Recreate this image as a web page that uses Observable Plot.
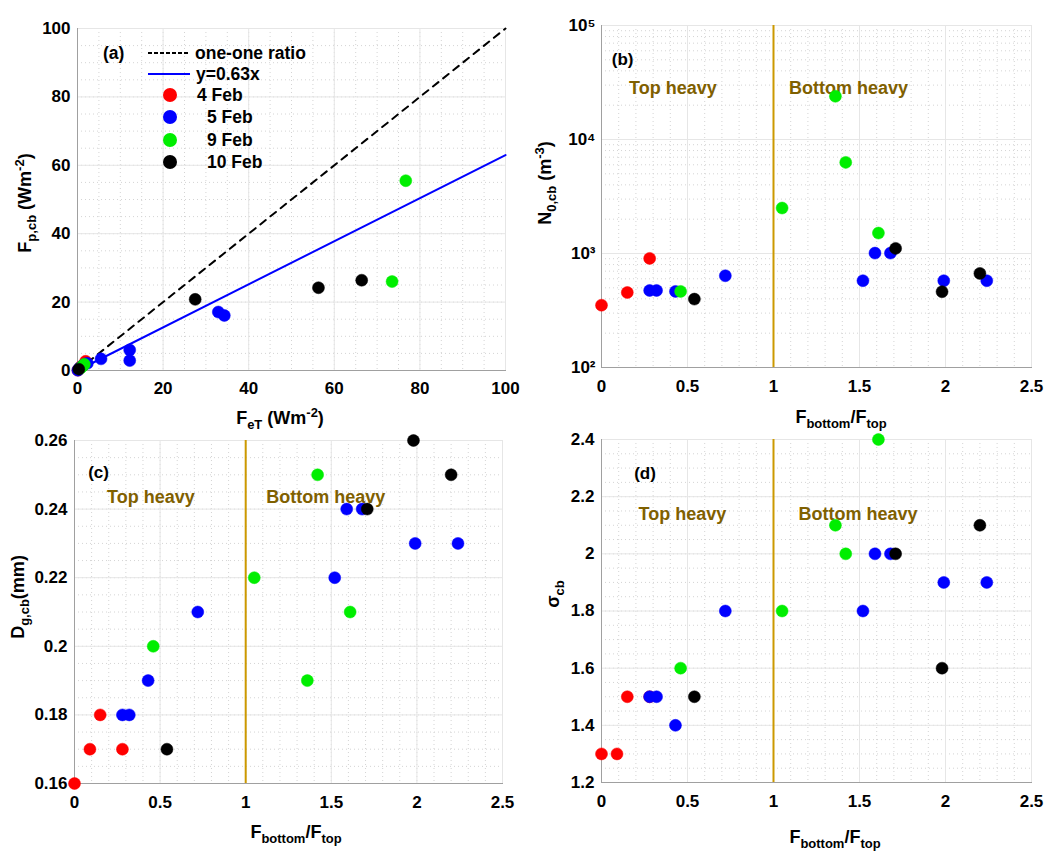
<!DOCTYPE html>
<html>
<head>
<meta charset="utf-8">
<script src="https://cdn.jsdelivr.net/npm/d3@7"></script>
<script src="https://cdn.jsdelivr.net/npm/@observablehq/plot@0.6"></script>
<style>
  body { margin: 0; background: white; }
  #fig { position: relative; width: 1058px; height: 858px; background: white; }
  #fig > div { position: absolute; }
</style>
</head>
<body>
<div id="fig">
  <div id="pc" style="left:0;top:430px"></div>
  <div id="pd" style="left:529px;top:430px"></div>
  <div id="pa" style="left:0;top:0"></div>
  <div id="pb" style="left:529px;top:0"></div>
</div>
<script>
// panel (a): FeT vs Fp,cb
const fet4 = [0.1, 0.7, 1.2, 1.9]
const fp4 = [0.1, 1.0, 1.5, 2.7]
const fet5 = [0.1, 0.5, 1.4, 2.3, 5.5, 12.2, 12.2, 32.9, 34.3]
const fp5 = [0.1, 0.7, 1.6, 2.1, 3.4, 6.0, 2.9, 17.1, 16.1]
const fet9 = [0.7, 1.2, 1.6, 73.5, 76.7]
const fp9 = [0.7, 1.3, 1.8, 26.0, 55.5]
const fet10 = [0.3, 27.5, 56.3, 66.4]
const fp10 = [0.4, 20.8, 24.2, 26.4]
const oneX = [0, 100], oneY = [0, 100]
const fitX = [0, 100], fitY = [0, 63]

// panels (b)-(d): Fbottom/Ftop ratio
const ratio4 = [0, 0.09, 0.15, 0.28]
const ratio5 = [0.28, 0.32, 0.43, 0.72, 1.52, 1.59, 1.68, 1.99, 2.24]
const ratio9 = [0.46, 1.05, 1.36, 1.42, 1.61]
const ratio10 = [0.54, 1.71, 1.98, 2.2]

const n04 = [352, null, 455, 906]
const n05 = [474, 474, 465, 638, 577, 1008, 1008, 577, 577]
const n09 = [465, 2506, 23950, 6300, 1511]
const n010 = [398, 1109, 462, 669]

const dg4 = [0.16, 0.17, 0.18, 0.17]
const dg5 = [0.18, 0.18, 0.19, 0.21, 0.22, 0.24, 0.24, 0.23, 0.23]
const dg9 = [0.20, 0.22, 0.19, 0.25, 0.21]
const dg10 = [0.17, 0.24, 0.26, 0.25]

const sig4 = [1.3, 1.3, 1.5, 1.5]
const sig5 = [1.5, 1.5, 1.4, 1.8, 1.8, 2.0, 2.0, 1.9, 1.9]
const sig9 = [1.6, 1.8, 2.1, 2.0, 2.4]
const sig10 = [1.5, 2.0, 1.6, 2.1]

const dates = ["4 Feb", "5 Feb", "9 Feb", "10 Feb"]
const colors = ["#ff0000", "#0000ff", "#00ee00", "#000000"]

const ticksA = [0, 20, 40, 60, 80, 100]
const ticksRatio = [0, 0.5, 1, 1.5, 2, 2.5]
const ticksN0 = [100, 1000, 10000, 100000]
const ticksDg = [0.16, 0.18, 0.2, 0.22, 0.24, 0.26]
const ticksSig = [1.2, 1.4, 1.6, 1.8, 2, 2.2, 2.4]

const font = "'Liberation Sans', Arial, Helvetica, sans-serif"
const gold = "#cc9900"
const brown = "#7f6000"

function pts(xs, ys) {
  return xs.map((x, i) => ({x: x, y: ys[i]})).filter(d => d.y != null)
}

function dotMarks(series) {
  return series.map((s, i) => Plot.dot(pts(s[0], s[1]), {x: "x", y: "y", r: 6, fill: colors[i], stroke: colors[i], strokeWidth: 0.5}))
}

function gridMarks(xMinor, yMinor, xMajor, yMajor) {
  return [
    Plot.gridX(xMinor, {stroke: "#d4d4d4", strokeOpacity: 1, strokeDasharray: "1,3"}),
    Plot.gridY(yMinor, {stroke: "#d4d4d4", strokeOpacity: 1, strokeDasharray: "1,3"}),
    Plot.gridX(xMajor, {stroke: "#e6e6e6", strokeOpacity: 1}),
    Plot.gridY(yMajor, {stroke: "#e6e6e6", strokeOpacity: 1}),
    Plot.frame({anchor: "left", stroke: "#a0a0a0"}),
    Plot.frame({anchor: "bottom", stroke: "#a0a0a0"})
  ]
}

const baseStyle = {fontFamily: font, fontSize: "17px", fontWeight: "bold", color: "#000", background: "transparent", overflow: "visible"}

// text with sub/superscripts
function label(svg, parts, x, y, rot) {
  const t = d3.select(svg).append("text")
    .attr("transform", `translate(${x},${y}) rotate(${rot || 0})`)
    .attr("text-anchor", "middle")
    .attr("font-family", font)
    .attr("font-weight", "bold")
    .attr("font-size", 18)
    .attr("fill", "black")
  let shift = 0
  for (const [s, k] of parts) {
    const nd = k === "sub" ? 5 : k === "sup" ? -7 : 0
    t.append("tspan").attr("dy", nd - shift).attr("font-size", k ? 13 : 18).text(s)
    shift = nd
  }
}

const fRatio = [["F"], ["bottom", "sub"], ["/F"], ["top", "sub"]]
const fmtNum = d => String(+d.toFixed(2))
const supDigits = {"2": "²", "3": "³", "4": "⁴", "5": "⁵"}
const fmtPow = d => "10" + supDigits[String(Math.round(Math.log10(d)))]

// (a)
const chartA = Plot.plot({
  width: 529, height: 430,
  marginLeft: 77, marginRight: 24, marginTop: 28, marginBottom: 60,
  style: baseStyle,
  x: {domain: [0, 100], ticks: ticksA, tickSize: 0, tickPadding: 11, label: null},
  y: {domain: [0, 100], ticks: ticksA, tickSize: 0, tickPadding: 7, label: null},
  marks: [
    ...gridMarks(d3.range(0, 101, 5), d3.range(0, 101, 5), ticksA, ticksA),
    Plot.line(pts(oneX, oneY), {x: "x", y: "y", stroke: "black", strokeWidth: 2, strokeDasharray: "7,6"}),
    Plot.line(pts(fitX, fitY), {x: "x", y: "y", stroke: "#0000ff", strokeWidth: 2}),
    ...dotMarks([[fet4, fp4], [fet5, fp5], [fet9, fp9], [fet10, fp10]])
  ]
})
d3.select("#pa").append(() => chartA)
{
  const g = d3.select(chartA).append("g").attr("font-family", font).attr("font-weight", "bold")
    .attr("font-size", 17.5).attr("text-anchor", "start")
  g.append("text").attr("x", 103).attr("y", 59).text("(a)")
  g.append("line").attr("x1", 148).attr("x2", 190).attr("y1", 53).attr("y2", 53).attr("stroke", "black").attr("stroke-width", 2).attr("stroke-dasharray", "4,2")
  g.append("text").attr("x", 195).attr("y", 59).text("one-one ratio")
  g.append("line").attr("x1", 148).attr("x2", 190).attr("y1", 74).attr("y2", 74).attr("stroke", "#0000ff").attr("stroke-width", 2)
  g.append("text").attr("x", 196).attr("y", 80).text("y=0.63x")
  const ly = [95, 117, 140, 162]
  const lx = [197, 207, 207, 207]
  dates.forEach((d, i) => {
    g.append("circle").attr("cx", 170).attr("cy", ly[i]).attr("r", 7).attr("fill", colors[i])
    g.append("text").attr("x", lx[i]).attr("y", ly[i] + 6).text(d)
  })
}
label(chartA, [["F"], ["eT", "sub"], [" (Wm"], ["-2", "sup"], [")"]], 280, 424)
label(chartA, [["F"], ["p,cb", "sub"], [" (Wm"], ["-2", "sup"], [")"]], 31, 203, -90)

// (b)
const logMinor = [2, 3, 4, 5, 6, 7, 8, 9].flatMap(m => [100, 1000, 10000].map(p => m * p))
const chartB = Plot.plot({
  width: 529, height: 430,
  marginLeft: 72, marginRight: 27, marginTop: 25, marginBottom: 63,
  style: baseStyle,
  x: {domain: [0, 2.5], ticks: ticksRatio, tickFormat: fmtNum, tickSize: 0, tickPadding: 12, label: null},
  y: {type: "log", domain: [100, 100000], ticks: ticksN0, tickFormat: fmtPow, tickSize: 0, tickPadding: 6, label: null},
  marks: [
    ...gridMarks(d3.range(0, 2.51, 0.1), logMinor, ticksRatio, ticksN0),
    Plot.ruleX([1], {stroke: gold, strokeWidth: 2}),
    Plot.text(["(b)"], {x: 0.06, y: 50000, text: d => d, textAnchor: "start", fontSize: 17}),
    Plot.text(["Top heavy"], {x: 0.16, y: 28000, text: d => d, textAnchor: "start", fill: brown, fontSize: 18}),
    Plot.text(["Bottom heavy"], {x: 1.09, y: 28000, text: d => d, textAnchor: "start", fill: brown, fontSize: 18}),
    ...dotMarks([[ratio4, n04], [ratio5, n05], [ratio9, n09], [ratio10, n010]])
  ]
})
d3.select("#pb").append(() => chartB)
label(chartB, fRatio, 312, 423)
label(chartB, [["N"], ["0,cb", "sub"], [" (m"], ["-3", "sup"], [")"]], 22, 183, -90)

// (c)
const chartC = Plot.plot({
  width: 529, height: 428,
  marginLeft: 74, marginRight: 27, marginTop: 10, marginBottom: 75,
  style: baseStyle,
  x: {domain: [0, 2.5], ticks: ticksRatio, tickFormat: fmtNum, tickSize: 0, tickPadding: 12, label: null},
  y: {domain: [0.16, 0.26], ticks: ticksDg, tickFormat: fmtNum, tickSize: 0, tickPadding: 7, label: null},
  marks: [
    ...gridMarks(d3.range(0, 2.51, 0.1), d3.range(0.16, 0.2601, 0.005), ticksRatio, ticksDg),
    Plot.ruleX([1], {stroke: gold, strokeWidth: 2}),
    Plot.text(["(c)"], {x: 0.08, y: 0.2507, text: d => d, textAnchor: "start", fontSize: 17}),
    Plot.text(["Top heavy"], {x: 0.19, y: 0.2435, text: d => d, textAnchor: "start", fill: brown, fontSize: 18}),
    Plot.text(["Bottom heavy"], {x: 1.12, y: 0.2436, text: d => d, textAnchor: "start", fill: brown, fontSize: 18}),
    ...dotMarks([[ratio4, dg4], [ratio5, dg5], [ratio9, dg9], [ratio10, dg10]])
  ]
})
d3.select("#pc").append(() => chartC)
label(chartC, fRatio, 296, 408)
label(chartC, [["D"], ["g,cb", "sub"], ["(mm)"]], 24, 167, -90)

// (d)
const chartD = Plot.plot({
  width: 529, height: 428,
  marginLeft: 72, marginRight: 27, marginTop: 9, marginBottom: 76,
  style: baseStyle,
  x: {domain: [0, 2.5], ticks: ticksRatio, tickFormat: fmtNum, tickSize: 0, tickPadding: 12, label: null},
  y: {domain: [1.2, 2.4], ticks: ticksSig, tickFormat: fmtNum, tickSize: 0, tickPadding: 7, label: null},
  marks: [
    ...gridMarks(d3.range(0, 2.51, 0.1), d3.range(1.2, 2.401, 0.05), ticksRatio, ticksSig),
    Plot.ruleX([1], {stroke: gold, strokeWidth: 2}),
    Plot.text(["(d)"], {x: 0.19, y: 2.28, text: d => d, textAnchor: "start", fontSize: 17}),
    Plot.text(["Top heavy"], {x: 0.215, y: 2.14, text: d => d, textAnchor: "start", fill: brown, fontSize: 18}),
    Plot.text(["Bottom heavy"], {x: 1.145, y: 2.14, text: d => d, textAnchor: "start", fill: brown, fontSize: 18}),
    ...dotMarks([[ratio4, sig4], [ratio5, sig5], [ratio9, sig9], [ratio10, sig10]])
  ]
})
d3.select("#pd").append(() => chartD)
label(chartD, fRatio, 306, 413)
label(chartD, [["σ"], ["cb", "sub"]], 30, 164, -90)
</script>
</body>
</html>
